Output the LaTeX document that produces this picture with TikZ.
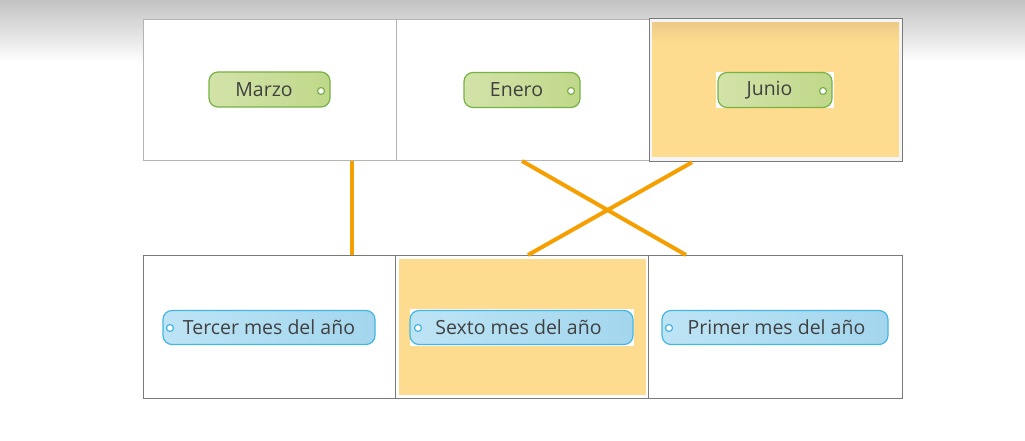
\documentclass[tikz,border=0pt]{standalone}
\usepackage{fontspec}
\setmainfont{Open Sans}
\usetikzlibrary{shadows,calc}
\definecolor{cellgray}{HTML}{B4B4B4}
\definecolor{celldark}{HTML}{7A7A7A}
\definecolor{hiyellow}{HTML}{FDDC8F}
\definecolor{hitop}{HTML}{EDCB88}
\definecolor{linkorange}{HTML}{F5A000}
\definecolor{greenfill}{HTML}{D3E3A9}
\definecolor{greendark}{HTML}{C0D88A}
\definecolor{greenline}{HTML}{76B244}
\definecolor{bluefill}{HTML}{BDE4F5}
\definecolor{bluedark}{HTML}{A3D6EE}
\definecolor{blueline}{HTML}{45B6E0}
\definecolor{txt}{HTML}{404040}
\tikzset{
  cell/.style={draw=cellgray, line width=1pt, fill=white, anchor=north west, inner sep=0pt},
  cellb/.style={draw=celldark, line width=1pt, fill=white, anchor=north west, inner sep=0pt},
  hifill/.style={fill=hiyellow, draw=none, anchor=north west, inner sep=0pt},
  pillg/.style={draw=greenline, line width=1.2pt, rounded corners=9pt, left color=greenfill, right color=greendark,
    minimum height=35pt, inner sep=0pt, text=txt, font=\fontsize{19.5}{21}\selectfont},
  pillb/.style={draw=blueline, line width=1.2pt, rounded corners=9pt, left color=bluefill, right color=bluedark,
    minimum height=34pt, inner sep=0pt, text=txt, font=\fontsize{19.5}{21}\selectfont},
  dotg/.style={circle, draw=greenline, fill=white, line width=1.2pt, minimum size=7pt, inner sep=0pt},
  dotb/.style={circle, draw=blueline, fill=white, line width=1.2pt, minimum size=7pt, inner sep=0pt},
  wbg/.style={fill=white, draw=none, anchor=north west, inner sep=0pt},
  link/.style={draw=linkorange, line width=4pt}
}
\begin{document}
\begin{tikzpicture}[x=1pt,y=-1pt]
\useasboundingbox (0,0) rectangle (1025,441);
\fill[white] (0,0) rectangle (1025,441);
\shade[top color=black!24, bottom color=white] (0,0) rectangle (1025,62);

% top row
\node[cell, minimum width=253pt, minimum height=141pt] (mbox) at (143,19) {};
\node[cell, minimum width=253pt, minimum height=141pt] (ebox) at (396,19) {};
\node[cellb, line width=1.3pt, drop shadow={opacity=0.35, shadow xshift=0.8pt, shadow yshift=-0.8pt}, fill=black!4, minimum width=253pt, minimum height=143pt] (jbox) at (649,18) {};
\node[hifill, top color=hitop, bottom color=hiyellow, shading angle=0, minimum width=247pt, minimum height=20pt] (jtop) at (652,22) {};
\node[hifill, minimum width=247pt, minimum height=116pt] (jfill) at (652,41) {};

% bottom row
\node[cellb, minimum width=252pt, minimum height=143pt] (tbox) at (143,255) {};
\node[cellb, minimum width=253pt, minimum height=143pt] (sbox) at (395,255) {};
\node[cellb, minimum width=254pt, minimum height=143pt] (pbox) at (648,255) {};
\node[hifill, minimum width=247pt, minimum height=136pt] (sfill) at (399,259) {};

% white backgrounds of selected pills
\node[wbg, minimum width=118pt, minimum height=36pt] (jwbg) at (716,72) {};
\node[wbg, minimum width=224pt, minimum height=37pt] (swbg) at (410,309) {};

% green pills
\node[pillg, minimum width=121pt] (marzo) at (269.5,89.5) {Marzo\kern11pt};
\node[dotg] (marzod) at (321,91) {};
\node[pillg, minimum width=116pt] (enero) at (522,90) {Enero\kern11pt};
\node[dotg] (enerod) at (571,91) {};
\node[pillg, minimum width=114pt] (junio) at (775,90) {Junio\kern11pt};
\node[dotg] (juniod) at (823,91) {};

% blue pills
\node[pillb, minimum width=212pt] (tercer) at (269,327.5) {Tercer mes del año};
\node[dotb] (tercerd) at (170,328) {};
\node[pillb, minimum width=223pt] (sexto) at (521.5,327.5) {\kern-6pt Sexto mes del año};
\node[dotb] (sextod) at (418,328) {};
\node[pillb, minimum width=226pt] (primer) at (775,327.5) {\kern3pt Primer mes del año};
\node[dotb] (primerd) at (669,328) {};

% connectors
\draw[link] ([xshift=209pt]mbox.south west) -- ([xshift=209pt]tbox.north west);
\draw[link] ([xshift=126pt]ebox.south west) -- ([xshift=38pt]pbox.north west);
\draw[link] ([xshift=43pt]jbox.south west) -- ([xshift=133pt]sbox.north west);
\end{tikzpicture}
\end{document}
